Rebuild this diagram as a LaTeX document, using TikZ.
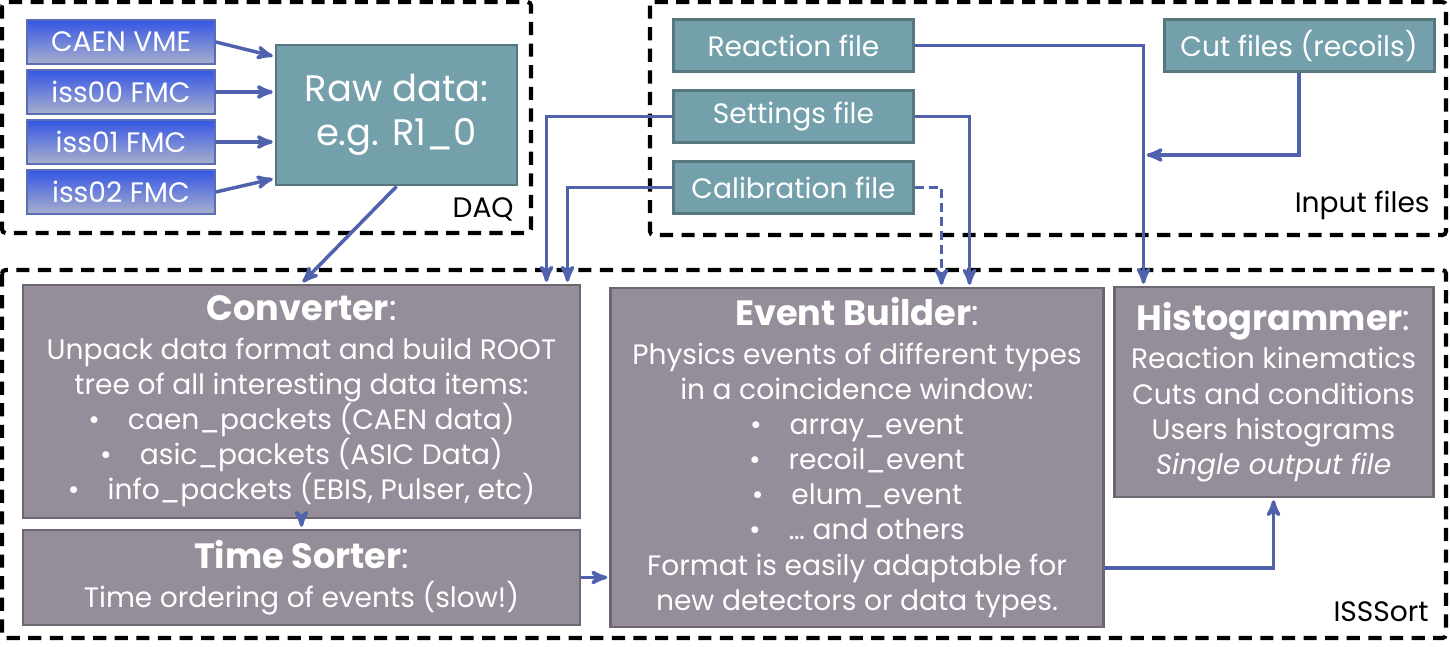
\documentclass[tikz,border=0pt]{standalone}
\usepackage{fontspec}
\setmainfont{Poppins}
\usepackage{tikz}
\usetikzlibrary{arrows}

\definecolor{fileteal}{HTML}{73A0AA}
\definecolor{fileedge}{HTML}{56777D}
\definecolor{sortgrey}{HTML}{968D9B}
\definecolor{sortedge}{HTML}{6E6772}
\definecolor{linkblue}{HTML}{5062AE}
\definecolor{daqtop}{HTML}{3456E4}
\definecolor{daqbot}{HTML}{A9AFCC}
\definecolor{daqedge}{HTML}{5B6DB5}

\newcommand{\boxtitle}[1]{{\fontsize{20}{24}\selectfont\bfseries #1}{\fontsize{20}{24}\selectfont:}}

\begin{document}
\begin{tikzpicture}[->,>=stealth',shorten >=1pt,node distance=1cm,
	link/.style={linkblue,line width=2pt},
	group box/.style={-,draw=black,line width=2.3pt,dash pattern=on 7.5pt off 4.8pt,rounded corners=2pt},
	group label/.style={anchor=base east,inner sep=0pt,font=\fontsize{16}{19}\selectfont},
	input node/.style={rectangle,draw=daqedge,line width=1pt,top color=daqtop,bottom color=daqbot,text=white,minimum width=3.76cm,minimum height=0.88cm,font=\fontsize{16}{18}\selectfont},
	file node/.style={rectangle,draw=fileedge,line width=1.7pt,fill=fileteal,text=white,minimum width=4.8cm,minimum height=1.04cm,font=\fontsize{16}{18}\selectfont},
	sort node/.style={rectangle,draw=sortedge,line width=1.7pt,fill=sortgrey,text=white,align=center,font=\fontsize{16}{20}\selectfont}]
	
	\useasboundingbox (0,0) rectangle (29,-12.94);
	
	% group frames
	\draw[group box] (0.04,-0.04) rectangle (10.62,-4.66);
	\draw[group box] (13.0,-0.04) rectangle (28.92,-4.7);
	\draw[group box] (0.04,-5.4) rectangle (28.92,-12.76);
	\node[group label] (daqlbl) at (10.28,-4.36) {DAQ};
	\node[group label] (inlbl) at (28.6,-4.26) {Input files};
	\node[group label] (isslbl) at (28.58,-12.44) {ISSSort};
	
	% DAQ
	\node[input node] (caen) at (2.42,-0.84) {CAEN VME};
	\node[input node] (iss00) [below of=caen] {iss00 FMC};
	\node[input node] (iss01) [below of=iss00] {iss01 FMC};
	\node[input node] (iss02) [below of=iss01] {iss02 FMC};
	\node[file node,minimum width=4.82cm,minimum height=2.8cm,align=center,font=\fontsize{21}{25}\selectfont] (raw) at (7.93,-2.3) {Raw data:\\e.g. R1\_0};
	
	% input files
	\node[file node] (reac) at (15.87,-0.91) {Reaction file};
	\node[file node] (set) [below of=reac,node distance=1.42cm] {Settings file};
	\node[file node] (cal) [below of=set,node distance=1.42cm] {Calibration file};
	\node[file node,minimum width=5.4cm] (cut) at (25.98,-0.91) {Cut files (recoils)};
	\coordinate (cutjoin) at (22.9,-3.1);
	
	% sorting
	\node[sort node,minimum width=11.14cm,minimum height=4.66cm] (conv) at (6.03,-8.03) {\boxtitle{Converter}\\[2pt]
		Unpack data format and build ROOT\\
		tree of all interesting data items:\\
		\textbullet\quad caen\_packets (CAEN data)\\
		\textbullet\quad asic\_packets (ASIC Data)\\
		\textbullet\quad info\_packets (EBIS, Pulser, etc)};
	\node[sort node,minimum width=11.14cm,minimum height=1.9cm] (ts) at (6.03,-11.55) {\boxtitle{Time Sorter}\\[2pt]
		Time ordering of events (slow!)};
	\node[sort node,minimum width=9.86cm,minimum height=6.78cm] (eb) at (17.14,-9.15) {\boxtitle{Event Builder}\\[2pt]
		Physics events of different types\\
		in a coincidence window:\\
		\textbullet\quad array\_event\\
		\textbullet\quad recoil\_event\\
		\textbullet\quad elum\_event\\
		\textbullet\quad … and others\\
		Format is easily adaptable for\\
		new detectors or data types.};
	\node[sort node,minimum width=6.38cm,minimum height=4.2cm] (hist) at (25.47,-7.84) {\boxtitle{Histogrammer}\\[2pt]
		Reaction kinematics\\
		Cuts and conditions\\
		Users histograms\\
		\textit{Single output file}};
	
	\draw[link] (caen.east) -- ([yshift=-0.26cm]raw.north west);
	\draw[link] (iss00.east) -- (iss00.east -| raw.west);
	\draw[link] (iss01.east) -- (iss01.east -| raw.west);
	\draw[link] (iss02.east) -- ([yshift=0.16cm]raw.south west);
	\draw[link] (raw.south) -- (conv.north);
	
	\draw[link] (reac.east) -| ([xshift=0.62cm]hist.north west);
	\draw[link] (cut.south) |- (cutjoin);
	\draw[link] (set.east) -| ([xshift=7.21cm]eb.north west);
	\draw[link,dash pattern=on 5pt off 3pt] (cal.east) -| ([xshift=6.65cm]eb.north west);
	\draw[link] (set.west) -| ([xshift=10.5cm]conv.north west);
	\draw[link] (cal.west) -| ([xshift=10.92cm]conv.north west);
	
	\draw[link] (conv.south) -- (ts.north);
	\draw[link] (ts.east) -- (ts.east -| eb.west);
	\draw[link] ([yshift=-2.21cm]eb.east) -| (hist.south);
	
\end{tikzpicture}
\end{document}
